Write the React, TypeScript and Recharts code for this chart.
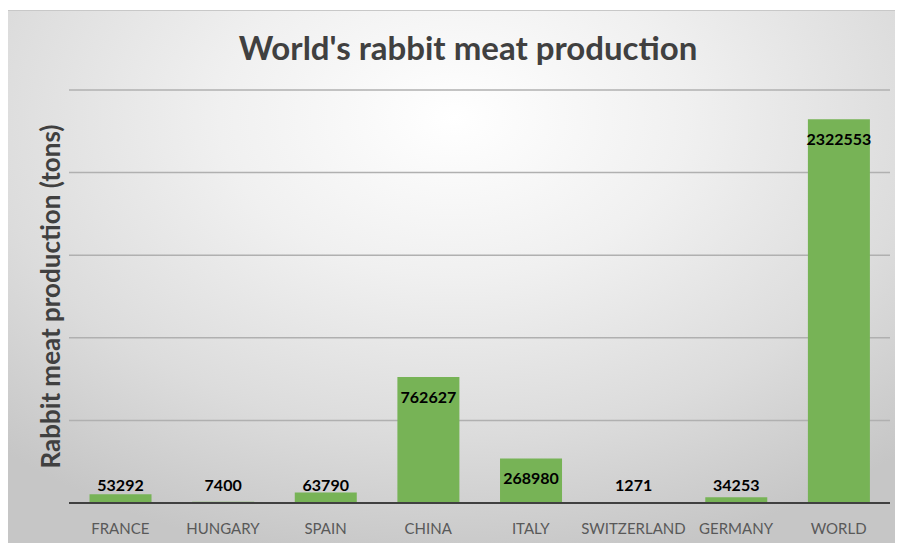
import React from "react";
import { BarChart, Bar, XAxis, YAxis, CartesianGrid, LabelList } from "recharts";

const countries = ["FRANCE", "HUNGARY", "SPAIN", "CHINA", "ITALY", "SWITZERLAND", "GERMANY", "WORLD"];
const production = [53292, 7400, 63790, 762627, 268980, 1271, 34253, 2322553];
const yTicks = [0, 500000, 1000000, 1500000, 2000000, 2500000];

const data = countries.map((c, i) => ({ country: c, value: production[i] }));

const FONT = "Lato, 'Open Sans', sans-serif";

const renderLabel = (props: any) => {
  const { x, y, width, height, value } = props;
  const cx = Number(x) + Number(width) / 2;
  const base = Number(y) + Number(height);
  const cy = Math.min(Number(y) + 19, base - 19);
  return (
    <text
      x={cx}
      y={cy}
      textAnchor="middle"
      dominantBaseline="central"
      fontFamily={FONT}
      fontWeight={700}
      fontSize={16}
      fill="#000"
    >
      {value}
    </text>
  );
};

export default function App() {
  const W = 892;
  const H = 532;
  return (
    <div
      style={{
        position: "relative",
        width: W,
        height: H,
        marginTop: 2,
        borderTop: "1px solid #c8c8c8",
        background:
          "radial-gradient(ellipse 75% 85% at 50% 20%, #ffffff 0%, #f0f0f0 35%, #dcdcdc 70%, #c6c6c6 100%)",
      }}
    >
      <div
        style={{
          position: "absolute",
          left: 14,
          top: 16,
          width: W,
          textAlign: "center",
          fontFamily: FONT,
          fontWeight: 700,
          fontSize: 33,
          color: "#404040",
        }}
      >
        World's rabbit meat production
      </div>
      <BarChart
        width={W}
        height={H}
        data={data}
        margin={{ top: 79, right: 10, bottom: 0, left: 0 }}
        barCategoryGap="20%"
      >
        <CartesianGrid horizontal vertical={false} stroke="#b0b0b0" strokeWidth={1.5} />
        <YAxis
          domain={[0, 2500000]}
          ticks={yTicks}
          tick={() => <g />}
          tickLine={false}
          axisLine={false}
          width={61}
          label={{
            value: "Rabbit meat production (tons)",
            angle: -90,
            position: "insideLeft",
            dx: 38,
            dy: 0,
            style: {
              textAnchor: "middle",
              fontFamily: FONT,
              fontWeight: 700,
              fontSize: 26,
              fill: "#404040",
            },
          }}
        />
        <XAxis
          dataKey="country"
          tickLine={false}
          axisLine={{ stroke: "#404040", strokeWidth: 2 }}
          height={40}
          tick={{ fill: "#595959", fontFamily: FONT, fontSize: 15, dy: 12 }}
          interval={0}
        />
        <Bar dataKey="value" fill="#77B356" isAnimationActive={false}>
          <LabelList dataKey="value" content={renderLabel} />
        </Bar>
      </BarChart>
    </div>
  );
}
